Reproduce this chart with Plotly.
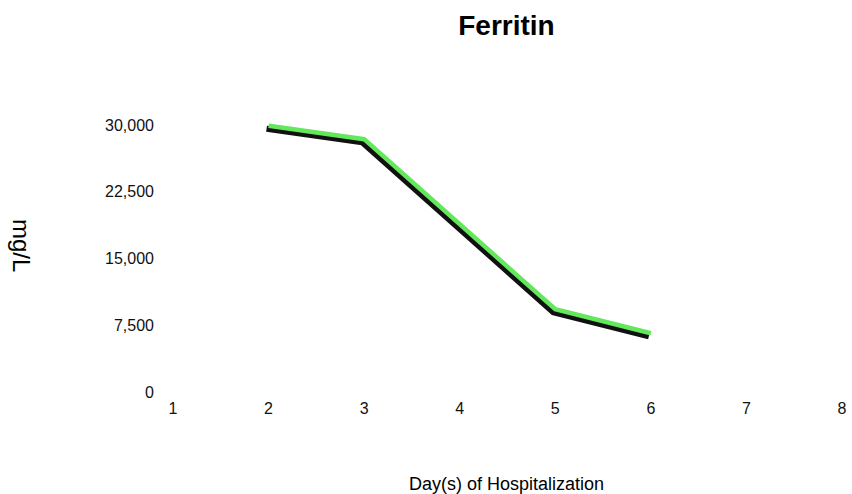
import plotly.graph_objects as go

days = [2, 3, 5, 6]
ferritin = [29900, 28400, 9300, 6600]
y_ticks = [0, 7500, 15000, 22500, 30000]
x_ticks = [1, 2, 3, 4, 5, 6, 7, 8]

W, H = 852, 494
ml, mr, mt, mb = 171, 10, 92, 99
pw = W - ml - mr
ph = H - mt - mb
dx = 2 / pw
dy = 3 / ph
ymax = 33700

font = "Liberation Sans, Arial, Helvetica, sans-serif"
green = "#62E85A"

fig = go.Figure()
# shadow (main axes, drawn first, shifted down-left)
fig.add_trace(go.Scatter(x=days, y=ferritin, mode="lines",
                         line=dict(color="#111111", width=6), hoverinfo="skip",
                         showlegend=False, cliponaxis=False))
# green line on second axes drawn on top
fig.add_trace(go.Scatter(x=days, y=ferritin, mode="lines", xaxis="x2", yaxis="y2",
                         line=dict(color=green, width=4.5),
                         showlegend=False, cliponaxis=False))

fig.update_layout(
    width=W, height=H,
    margin=dict(l=ml, r=mr, t=mt, b=mb, autoexpand=False),
    paper_bgcolor="white", plot_bgcolor="rgba(0,0,0,0)",
    font=dict(family=font, color="#111111", size=16),
    title=dict(text="<b>Ferritin</b>", x=0.5, xref="paper", xanchor="center",
               y=1 - 25 / H, yanchor="middle", font=dict(size=28, color="black")),
    xaxis=dict(domain=[0, 1 - dx], range=[1, 8], visible=False),
    yaxis=dict(domain=[0, 1 - dy], range=[0, ymax], visible=False),
    xaxis2=dict(domain=[dx, 1], range=[1, 8], anchor="y2", tickvals=x_ticks,
                showgrid=False, zeroline=False, showline=False, ticks="",
                ticklabelstandoff=5, tickfont=dict(size=16)),
    yaxis2=dict(domain=[dy, 1], range=[0, ymax], anchor="x2", tickvals=y_ticks,
                tickformat=",", showgrid=False, zeroline=False, showline=False,
                ticks="", ticklabelstandoff=18, tickfont=dict(size=16)),
    annotations=[
        dict(text="Day(s) of Hospitalization", xref="paper", yref="paper",
             x=0.5, y=0, yshift=-(484 - (H - mb)), xanchor="center", yanchor="middle",
             showarrow=False, font=dict(size=18, color="black")),
        dict(text="mg/L", xref="paper", yref="paper", x=0, xshift=-(ml - 22),
             y=1 - (245 - mt) / ph, xanchor="center", yanchor="middle",
             textangle=90, showarrow=False, font=dict(size=24, color="black")),
    ],
)

fig.write_html("out.html", config={"displayModeBar": False},
               post_script="document.body.style.margin='0';")
